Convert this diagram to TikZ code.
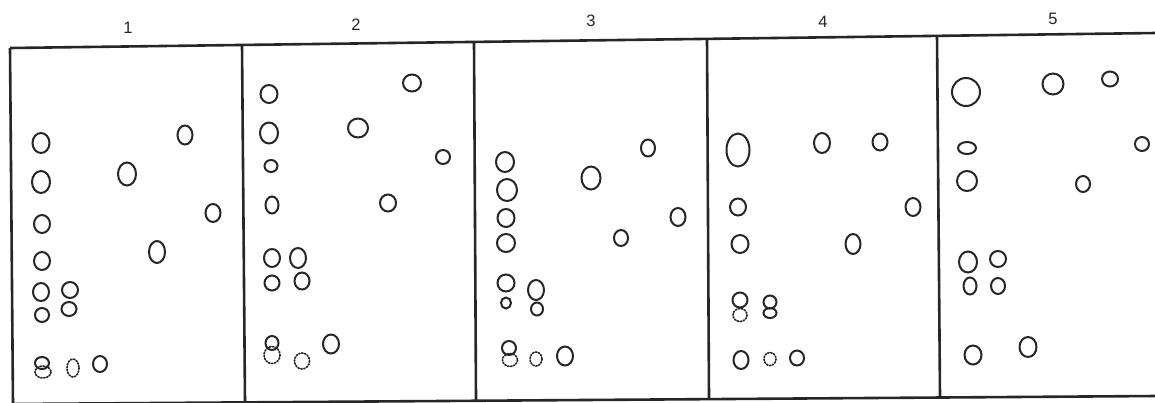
\documentclass[tikz,border=0pt]{standalone}
\usepackage{fontspec}
\setmainfont{Liberation Sans}
\begin{document}
\begin{tikzpicture}[x=1pt,y=-1pt,
  frameline/.style={line width=2.6pt, draw=black!85},
  spot/.style={line width=2pt, draw=black!85},
  faintspot/.style={line width=1.7pt, draw=black!85, dash pattern=on 1.3pt off 1.7pt, line cap=round},
  lab/.style={font=\fontsize{16.5}{16.5}\selectfont, text=black!85, inner sep=0pt}]
\useasboundingbox (0,0) rectangle (1155,402);
% frame
\coordinate (t0) at (10,48);   \coordinate (b0) at (13,404);
\coordinate (t1) at (242,45);  \coordinate (b1) at (245,402);
\coordinate (t2) at (474,42);  \coordinate (b2) at (476,400);
\coordinate (t3) at (707,39);  \coordinate (b3) at (709,399);
\coordinate (t4) at (937,36);  \coordinate (b4) at (940,397);
\coordinate (tr) at (1156,33); \coordinate (br) at (1156,396);
\draw[frameline] (t0) -- (tr);
\draw[frameline] (b0) -- (br);
\foreach \i in {0,...,4} \draw[frameline] (t\i) -- (b\i);
% labels
\node[lab] (l1) at (128,28) {1};
\node[lab] (l2) at (356,25) {2};
\node[lab] (l3) at (591,21) {3};
\node[lab] (l4) at (823,22) {4};
\node[lab] (l5) at (1053,19) {5};
% panel 1
\foreach \x/\y/\a/\b in {41/143/8.5/10, 41/182/9/11, 42/224/8/9, 42/261/8/9, 41/292/8/9,
  42/315/7/7, 70/290/8/8, 69/309/7.5/7, 185/135/7.5/9.5, 127/174/9/11.5, 213/213/7.5/9,
  157/252/8/11, 42/363/7/6, 100/364/7/8}
  \draw[spot] (\x,\y) ellipse [x radius=\a, y radius=\b];
\foreach \x/\y/\a/\b in {43/372/8/6, 73/368/6/9}
  \draw[faintspot] (\x,\y) ellipse [x radius=\a, y radius=\b];
% panel 2
\foreach \x/\y/\a/\b in {269/94/8.5/9, 269/133/9/10.5, 271/166/6.5/6, 272/205/6.5/8.5,
  272/258/8/9, 272/283/7.5/7.5, 298/258/8/10, 302/281/7.5/8.5, 412/83/9/8.5,
  358/128/10/9.5, 443/157/7/7, 388/203/8/8.5, 272/343/6.5/7, 331/344/8/9.5}
  \draw[spot] (\x,\y) ellipse [x radius=\a, y radius=\b];
\foreach \x/\y/\a/\b in {272/355/8/8.5, 302/361/7.5/8}
  \draw[faintspot] (\x,\y) ellipse [x radius=\a, y radius=\b];
% panel 3
\foreach \x/\y/\a/\b in {505/162/9/10, 507/190/10/11, 506/218/8.5/9, 506/243/9/9,
  506/283/8.5/8.5, 506/303/5/5.5, 536/290/8/10, 537/309/6/6.5, 648/148/7/8.5,
  591/178/9.5/11.5, 678/217/7.5/9, 621/238/7/8, 509/348/7/7, 565/356/8/9.5}
  \draw[spot] (\x,\y) ellipse [x radius=\a, y radius=\b];
\foreach \x/\y/\a/\b in {510/360/7.5/6.5, 536/359/6/7}
  \draw[faintspot] (\x,\y) ellipse [x radius=\a, y radius=\b];
% panel 4
\foreach \x/\y/\a/\b in {738/150/11.5/16.5, 822/143/8/10, 880/142/7.5/8.5, 738/207/8/8.5,
  913/207/7.5/9, 740/244/8.5/9, 853/244/7.5/10, 740/300/7.5/7.5, 770/302/6.5/6.5,
  770/313/6.5/5, 741/360/7.5/9, 797/358/7/7.5}
  \draw[spot] (\x,\y) ellipse [x radius=\a, y radius=\b];
\foreach \x/\y/\a/\b in {740/315/7/6.5, 770/359/6/6.5}
  \draw[faintspot] (\x,\y) ellipse [x radius=\a, y radius=\b];
% panel 5
\foreach \x/\y/\a/\b in {966/92/14/14, 1053/84/10.5/10.5, 1110/79/8/7.5, 967/148/9/6,
  1142/144/7/7, 967/181/10/10, 1083/184/7/8, 968/262/9/10.5, 998/259/8/8,
  970/286/6.5/8.5, 998/286/7/8, 973/355/8.5/9.5, 1028/347/8.5/10}
  \draw[spot] (\x,\y) ellipse [x radius=\a, y radius=\b];
\end{tikzpicture}
\end{document}
